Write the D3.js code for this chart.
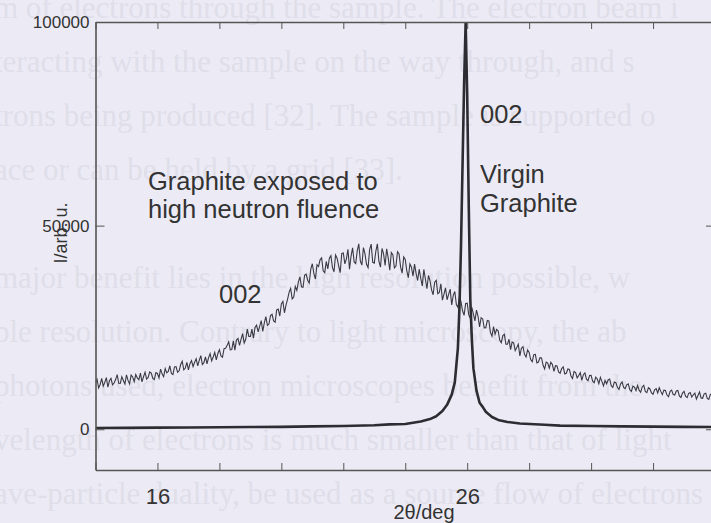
<!DOCTYPE html>
<html lang="en">
  <head>
    <meta charset="UTF-8" />
    <title>Graphite XRD 002</title>
    <script src="https://d3js.org/d3.v7.min.js"></script>
    <style>
      body {
        margin: 0;
        background: #ecebf5;
        font-family: Arial, "Liberation Sans", sans-serif;
      }
      .bleed {
        font-family: "Liberation Serif", "DejaVu Serif", serif;
        font-size: 31px;
        fill: #dfdee9;
      }
      .axis path,
      .axis line {
        stroke: #555;
      }
      .axis path {
        stroke-width: 1.6;
      }
      .axis text {
        fill: #333;
      }
      .note {
        font-size: 25.5px;
        fill: #333;
      }
    </style>
  </head>
  <body>
    <svg id="chart" width="711" height="523"></svg>
    <script>
      // irradiated sample: counts every 0.05 deg from 14 deg (one row per degree)
      const fluenceStart = 14;
      const fluenceStep = 0.05;
      const fluenceCounts = [
        11500, 12300, 10140, 11000, 12480, 10600, 11520, 12700, 10360, 11900, 12500, 10900, 11350, 12200, 13400, 11300, 11240, 12900, 11990, 11100,
        13340, 12000, 11140, 13300, 12840, 11700, 13440, 12600, 12140, 13800, 11630, 12900, 14020, 12300, 12720, 14100, 13810, 12500, 12200, 13900,
        13700, 12600, 14750, 13600, 12900, 14900, 13850, 14200, 15600, 13700, 13450, 15300, 15400, 14000, 14350, 15900, 16700, 14600, 15040, 16400,
        14580, 16100, 16880, 15400, 16470, 17300, 15570, 16900, 18060, 15900, 16360, 17800, 16050, 17600, 18550, 16800, 17740, 18900, 17040, 18600,
        19530, 18000, 17670, 19800, 19910, 20600, 21450, 19500, 19590, 21700, 19430, 21900, 22320, 20600, 22110, 23500, 21200, 22100, 24600, 22800,
        22790, 24600, 22380, 25000, 25570, 23900, 25260, 26700, 24050, 26100, 27640, 25500, 25830, 27900, 28220, 26600, 26310, 29300, 29500, 27800,
        30780, 31400, 28600, 30500, 31900, 33600, 34600, 32000, 32450, 35100, 34100, 36200, 37430, 35000, 34860, 37800, 38090, 36600, 35920, 39300,
        40650, 38200, 36900, 40400, 39950, 41600, 42100, 38900, 38450, 41200, 39380, 42000, 42630, 39700, 38670, 42800, 42020, 40100, 38460, 43200,
        43310, 40600, 41860, 44200, 39310, 42500, 44560, 41100, 40700, 43800, 45550, 41300, 40300, 44600, 43050, 40500, 39700, 44100, 45450, 41000,
        40790, 43700, 45540, 41200, 39800, 44400, 43050, 40200, 44300, 42100, 39050, 43400, 42860, 39600, 40060, 43600, 43070, 39800, 38370, 42300,
        41680, 38900, 37240, 40600, 39800, 37600, 40560, 38300, 36520, 39300, 37080, 35200, 39240, 36900, 34500, 37800, 36460, 34200, 33020, 36100,
        36580, 33300, 33590, 35700, 31700, 33200, 34710, 31800, 33120, 34400, 30530, 32900, 33840, 30600, 29950, 32600, 31260, 29100, 27970, 30900,
        30980, 28100, 27240, 29900, 28300, 26600, 29270, 27700, 25130, 27400, 27090, 24900, 24950, 26700, 26610, 23800, 22870, 25200, 23340, 24500,
        24200, 21900, 21260, 23000, 23320, 20900, 20880, 22100, 19540, 21400, 21200, 19300, 20060, 20900, 18020, 19900, 20270, 18400, 17730, 19500,
        18890, 17100, 16600, 18300, 18400, 16300, 16510, 17600, 17510, 15700, 14820, 16500, 16230, 15000, 16430, 15900, 14240, 15600, 15540, 14100,
        13750, 14900, 15300, 13600, 13760, 14800, 14710, 13100, 12470, 14200, 13920, 12600, 13220, 13900, 12030, 13400, 13830, 12300, 11940, 13200,
        13240, 11800, 11440, 12800, 12350, 11200, 12750, 11700, 10660, 12000, 11160, 12100, 12310, 10700, 10260, 11600, 11420, 10300, 9770, 11100,
        11620, 10300, 9970, 10900, 11130, 9700, 9280, 10600, 10340, 9500, 10790, 9600, 9090, 10400, 10790, 9300, 9000, 10200, 9900, 8900,
        8600, 9700, 10000, 8900, 10200, 9300, 8500, 9600, 9500, 8400, 8000, 9300, 9600, 8500, 8400, 9400, 9510, 8200, 7810, 8900,
        9310, 8100, 7760, 8800, 9010, 7900, 8470, 8900, 7420, 8300, 9170, 7700, 7620, 8700, 8870, 7600, 7320, 8600, 8570, 7500,
        8300,
      ];

      // virgin graphite
      const virginAngle = [
        14, 15, 16, 17, 18, 19, 20, 21, 22, 23, 23.5, 24, 24.5, 24.8, 25, 25.2,
        25.35, 25.5, 25.6, 25.7, 25.75, 25.8, 25.85, 25.9, 25.95, 26, 26.05,
        26.1, 26.15, 26.2, 26.3, 26.4, 26.5, 26.6, 26.8, 27, 27.3, 27.7, 28.5,
        29, 30, 31, 32, 33, 34,
      ];
      const virginCounts = [
        300, 350, 400, 450, 500, 550, 600, 700, 800, 1000, 1200, 1300, 1900,
        2500, 3200, 4500, 6000, 8500, 11500, 20000, 30000, 45000, 65000, 85000,
        100000, 82000, 55000, 32000, 22000, 15000, 9500, 6500, 5500, 4300, 3000,
        2300, 1800, 1400, 1100, 900, 800, 700, 650, 600, 550,
      ];

      const xTicks = [14, 16, 18, 20, 22, 24, 26, 28, 30, 32, 34];
      const xLabels = [16, 26];
      const yTicks = [0, 50000, 100000];

      // show-through text from the back of the scanned page
      const bleedLines = [
        "m of electrons through the sample. The electron beam i",
        "teracting with the sample on the way through, and s",
        "trons being produced [32]. The sample is supported o",
        "ace or can be held by a grid [33].",
        "",
        "major benefit lies in the high resolution possible, w",
        "ble resolution. Contrary to light microscopy, the ab",
        " photons used, electron microscopes benefit from the",
        "velength of electrons is much smaller than that of light",
        "ave-particle duality, be used as a source flow of electrons",
      ];

      const svg = d3.select("#chart");

      svg
        .append("g")
        .selectAll("text")
        .data(bleedLines)
        .join("text")
        .attr("class", "bleed")
        .attr("x", -6)
        .attr("y", (d, i) => 18 + i * 54)
        .text((d) => d);

      const x = d3.scaleLinear().domain([14, 34]).range([95.5, 715]);
      const y = d3.scaleLinear().domain([-10000, 100000]).range([470, 22]);

      svg
        .append("defs")
        .append("clipPath")
        .attr("id", "plot-clip")
        .append("rect")
        .attr("x", x(14))
        .attr("y", y(100000))
        .attr("width", x(34) - x(14))
        .attr("height", y(-10000) - y(100000));

      const plot = svg.append("g").attr("clip-path", "url(#plot-clip)");

      const line = d3
        .line()
        .x((d) => x(d[0]))
        .y((d) => y(d[1]));

      const fluence = fluenceCounts.map((v, i) => [fluenceStart + i * fluenceStep, v]);
      const virgin = virginAngle.map((a, i) => [a, virginCounts[i]]);

      plot
        .append("path")
        .datum(fluence)
        .attr("fill", "none")
        .attr("stroke", "#3a3a42")
        .attr("stroke-width", 1.1)
        .attr("d", line);

      plot
        .append("path")
        .datum(virgin)
        .attr("fill", "none")
        .attr("stroke", "#2c2c32")
        .attr("stroke-width", 2.6)
        .attr("stroke-linejoin", "round")
        .attr("d", line);

      // axes (ticks point inward, like the original frame)
      const fmtX = (d) => (xLabels.includes(d) ? d : "");

      svg
        .append("g")
        .attr("class", "axis")
        .attr("transform", `translate(0,${y(-10000)})`)
        .call(d3.axisBottom(x).tickValues(xTicks).tickSizeInner(-7).tickSizeOuter(0).tickPadding(18).tickFormat(fmtX))
        .call((g) => g.selectAll("text").style("font-size", "22px"));

      svg
        .append("g")
        .attr("class", "axis")
        .attr("transform", `translate(0,${y(100000)})`)
        .call(d3.axisTop(x).tickValues(xTicks).tickSizeInner(-7).tickSizeOuter(0).tickFormat(""));

      svg
        .append("g")
        .attr("class", "axis")
        .attr("transform", `translate(${x(14)},0)`)
        .call(d3.axisLeft(y).tickValues(yTicks).tickSizeInner(-9).tickSizeOuter(0).tickPadding(6).tickFormat(d3.format("d")))
        .call((g) => g.selectAll("text").style("font-size", "17px"));

      svg
        .append("g")
        .attr("class", "axis")
        .attr("transform", `translate(${x(34)},0)`)
        .call(d3.axisRight(y).tickValues(yTicks).tickSizeInner(-9).tickSizeOuter(0).tickFormat(""));

      // axis titles
      svg
        .append("text")
        .attr("x", 424)
        .attr("y", 519)
        .attr("text-anchor", "middle")
        .style("font-size", "20px")
        .attr("fill", "#333")
        .text("2θ/deg");

      svg
        .append("text")
        .attr("transform", "translate(67,233) rotate(-90)")
        .attr("text-anchor", "middle")
        .style("font-size", "18px")
        .attr("fill", "#333")
        .text("I/arb. u.");

      // annotations
      const notes = [
        { t: "Graphite exposed to", x: 148, y: 190 },
        { t: "high neutron fluence", x: 148, y: 218 },
        { t: "002", x: 219, y: 303 },
        { t: "002", x: 480, y: 123 },
        { t: "Virgin", x: 480, y: 183 },
        { t: "Graphite", x: 480, y: 212 },
      ];

      svg
        .append("g")
        .selectAll("text")
        .data(notes)
        .join("text")
        .attr("class", "note")
        .attr("x", (d) => d.x)
        .attr("y", (d) => d.y)
        .text((d) => d.t);
    </script>
  </body>
</html>
